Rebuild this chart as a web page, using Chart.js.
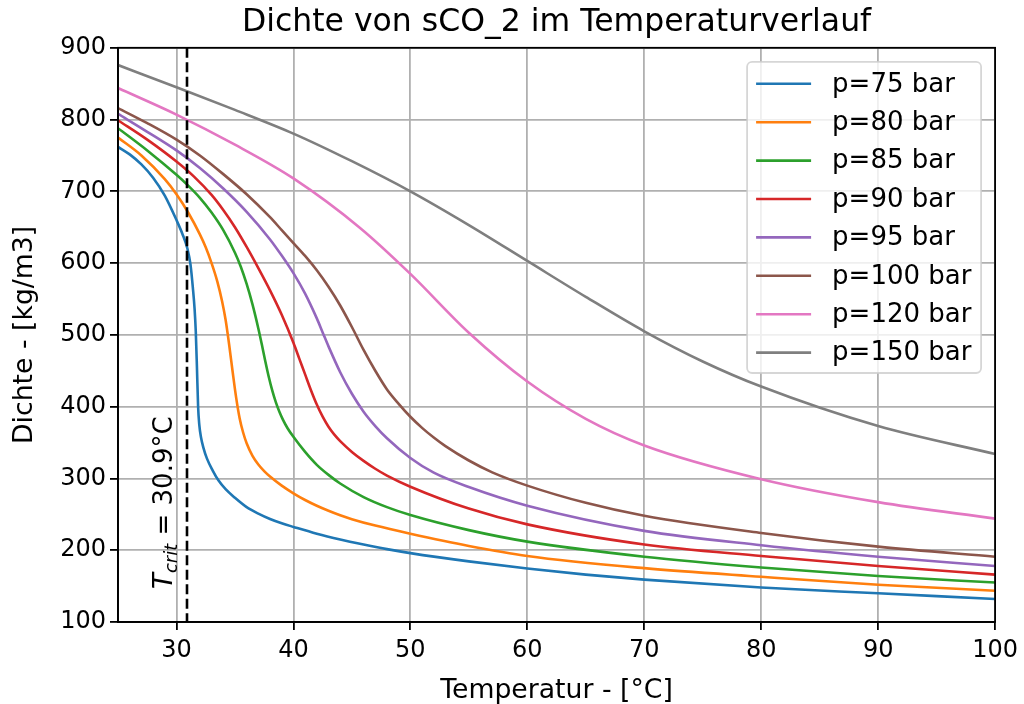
<!DOCTYPE html>
<html>
<head>
<meta charset="utf-8">
<script src="https://cdn.jsdelivr.net/npm/chart.js@4"></script>
<style>
  html, body { margin: 0; padding: 0; background: #fff; }
  canvas { display: block; }
</style>
</head>
<body>
<canvas id="chart" width="1024" height="704"></canvas>
<script>
// sCO2 density over temperature, one isobar per pressure
const pressures = [75, 80, 85, 90, 95, 100, 120, 150];
const lineColors = ["#1f77b4", "#ff7f0e", "#2ca02c", "#d62728", "#9467bd", "#8c564b", "#e377c2", "#7f7f7f"];

const temp75 = [25, 26, 27, 28, 29, 30, 30.5, 30.94, 31.2, 31.4, 31.55, 31.65, 31.75, 31.85, 31.95, 32.1, 32.3, 32.6, 33.1, 33.6, 34.2, 35, 36, 37, 38, 39, 40, 42, 44, 46, 48, 50, 55, 60, 65, 70, 80, 90, 100];
const rho75  = [762, 751.5, 737.5, 719, 694, 660, 641, 620, 598, 566, 536, 505, 455, 400, 375, 357, 343, 328, 311, 297, 285, 273, 260, 251, 243.5, 237.5, 232.5, 223, 215, 208, 201.5, 196, 184.5, 174.5, 166, 159, 148, 140, 132];

const temp80 = [25, 27, 29, 30, 31, 32, 32.5, 33, 33.5, 33.9, 34.2, 34.5, 34.8, 35.1, 35.4, 35.7, 36, 36.5, 37, 37.5, 38, 39, 40, 41, 42, 43, 44, 45, 47, 50, 55, 60, 70, 80, 90, 100];
const rho80  = [775, 750, 717, 696, 670.5, 640, 622, 600, 574, 547, 521, 487, 449, 413, 384, 364, 349, 331.5, 319.5, 310.3, 302.7, 290, 279.3, 270, 262, 255, 248.7, 243.3, 234.3, 223, 206, 192, 175, 163, 152, 143.5];

const temp85 = [25, 27.5, 30, 31, 32, 33, 34, 35, 35.5, 36, 36.5, 37, 37.3, 37.6, 37.9, 38.2, 38.5, 38.8, 39.1, 39.5, 40, 41, 42, 43, 44, 46, 48, 50, 55, 60, 70, 80, 90, 100];
const rho85  = [788, 757, 723, 708, 691, 670.5, 646, 614.5, 595, 571, 542.5, 509, 486.5, 463, 441, 422, 406, 393, 382, 370, 358, 337, 319, 305, 293, 274, 260, 249, 228, 212, 191, 176, 164, 155];

const temp90 = [25, 27.5, 30, 31.5, 33, 34, 35, 36, 37, 38, 39, 40, 40.5, 41, 41.5, 42, 42.5, 43, 43.5, 44, 45, 46, 47, 48, 50, 55, 60, 70, 80, 90, 100];
const rho90  = [799, 772, 741.5, 720.5, 695, 674, 650, 622.5, 593, 562, 528, 489, 467, 445, 423, 403, 386, 372, 361, 352, 337, 324.5, 313.5, 304, 288.5, 258, 236, 208, 192, 178, 166];

const temp95 = [25, 27.5, 30, 32, 34, 36, 38, 39, 40, 41, 42, 42.5, 43, 44, 45, 46, 47, 48, 50, 52, 55, 60, 70, 80, 90, 100];
const rho95  = [808, 783, 757, 732.5, 704, 671.5, 633, 610.5, 586, 557.5, 523, 503.5, 484, 448, 418, 393, 373, 356, 328.5, 308, 288, 262, 227, 207, 191, 178];

const temp100 = [25, 27.5, 30, 32, 34, 36, 38, 39, 40, 41, 42, 43, 44, 45, 46, 47, 48, 49, 50, 51, 52, 53, 55, 57, 60, 65, 70, 80, 90, 100];
const rho100  = [816, 795, 772, 750, 724, 696, 664, 646, 628, 610, 590, 567, 541, 511, 479, 450, 424, 404, 386, 370.5, 357, 345, 325, 308.5, 290, 266, 248, 224, 205, 191];

const temp120 = [25, 30, 35, 40, 45.7, 50, 55, 60, 65, 70, 80, 90, 100];
const rho120  = [844, 807, 765, 718, 649, 585, 503, 435, 383, 346, 299, 267, 244];

const temp150 = [25, 30, 35, 40, 45, 50, 55, 60, 65, 70, 75, 80, 90, 100];
const rho150  = [876, 845, 813.5, 780.5, 742, 700, 653, 603, 553, 505, 463, 428, 373, 334];

const xTicks = [30, 40, 50, 60, 70, 80, 90, 100];
const yTicks = [100, 200, 300, 400, 500, 600, 700, 800, 900];
const tCrit = 30.9;

const temps = [temp75, temp80, temp85, temp90, temp95, temp100, temp120, temp150];
const rhos = [rho75, rho80, rho85, rho90, rho95, rho100, rho120, rho150];

const FONT = "DejaVu Sans";

const datasets = pressures.map((p, i) => ({
  label: "p=" + p + " bar",
  data: temps[i].map((t, k) => ({ x: t, y: rhos[i][k] })),
  borderColor: lineColors[i],
  backgroundColor: lineColors[i],
  borderWidth: 2.6,
  pointRadius: 0,
  cubicInterpolationMode: "monotone",
  fill: false
}));

// dashed critical-temperature marker with rotated label, plus the axes frame
const critLine = {
  id: "critLine",
  afterDatasetsDraw(chart) {
    const { ctx, chartArea: a, scales } = chart;
    const x = scales.x.getPixelForValue(tCrit);
    ctx.save();
    ctx.strokeStyle = "#000";
    ctx.lineWidth = 2.6;
    ctx.setLineDash([10, 4.5]);
    ctx.beginPath();
    ctx.moveTo(x, a.top);
    ctx.lineTo(x, a.bottom);
    ctx.stroke();
    ctx.setLineDash([]);

    // label: T_crit = 30.9°C, reading bottom to top
    ctx.translate(x - 15, scales.y.getPixelForValue(146));
    ctx.rotate(-Math.PI / 2);
    ctx.fillStyle = "#000";
    ctx.textBaseline = "alphabetic";
    ctx.textAlign = "left";
    let pos = 0;
    ctx.font = "italic 26px " + FONT;
    ctx.fillText("T", pos, 0);
    pos += ctx.measureText("T").width;
    ctx.font = "italic 18px " + FONT;
    ctx.fillText("crit", pos, 5);
    pos += ctx.measureText("crit").width;
    ctx.font = "26px " + FONT;
    ctx.fillText(" = " + tCrit + "°C", pos, 0);
    ctx.restore();

    ctx.save();
    ctx.strokeStyle = "#000";
    ctx.lineWidth = 1.8;
    ctx.strokeRect(a.left, a.top, a.right - a.left, a.bottom - a.top);
    ctx.restore();
  }
};

// boxed legend in the upper right corner of the plot
const boxLegend = {
  id: "boxLegend",
  afterDraw(chart) {
    const { ctx, chartArea: a } = chart;
    const w = 234, rowH = 38.4;
    const sets = chart.data.datasets;
    const h = sets.length * rowH + 4;
    const x0 = a.right - 14 - w, y0 = a.top + 14;
    ctx.save();
    ctx.beginPath();
    ctx.roundRect(x0, y0, w, h, 5);
    ctx.fillStyle = "rgba(255,255,255,0.8)";
    ctx.fill();
    ctx.strokeStyle = "rgba(204,204,204,0.8)";
    ctx.lineWidth = 1.8;
    ctx.stroke();
    ctx.font = "26px " + FONT;
    ctx.textBaseline = "middle";
    ctx.textAlign = "left";
    sets.forEach((ds, i) => {
      const cy = y0 + 22 + i * rowH;
      ctx.strokeStyle = ds.borderColor;
      ctx.lineWidth = 2.6;
      ctx.beginPath();
      ctx.moveTo(x0 + 9, cy);
      ctx.lineTo(x0 + 64, cy);
      ctx.stroke();
      ctx.fillStyle = "#000";
      ctx.fillText(ds.label, x0 + 85, cy + 1);
    });
    ctx.restore();
  }
};

new Chart(document.getElementById("chart"), {
  type: "line",
  data: { datasets },
  plugins: [critLine, boxLegend],
  options: {
    responsive: false,
    devicePixelRatio: 1,
    animation: false,
    layout: { padding: { left: 0, right: 27, top: 0, bottom: 0 } },
    plugins: {
      legend: { display: false },
      tooltip: { enabled: false },
      title: {
        display: true,
        text: "Dichte von sCO_2 im Temperaturverlauf",
        color: "#000",
        fullSize: false,
        font: { family: FONT, size: 31.5, weight: "normal" },
        padding: { top: 4, bottom: 6 }
      }
    },
    scales: {
      x: {
        type: "linear",
        min: 25,
        max: 100,
        afterBuildTicks: s => { s.ticks = xTicks.map(v => ({ value: v })); },
        afterFit: s => { s.height = 82; },
        ticks: { color: "#000", font: { family: FONT, size: 24 }, padding: 6, maxRotation: 0 },
        grid: { color: "#b0b0b0", lineWidth: 1.8, tickColor: "#000", tickWidth: 1.8, tickLength: 8 },
        border: { color: "#000", width: 1.8 },
        title: { display: true, text: "Temperatur - [°C]", color: "#000", font: { family: FONT, size: 26.7, lineHeight: 1.0 }, padding: { top: 0, bottom: 0 } }
      },
      y: {
        type: "linear",
        min: 100,
        max: 900,
        afterBuildTicks: s => { s.ticks = yTicks.map(v => ({ value: v })); },
        afterFit: s => { s.width = 118; },
        ticks: { color: "#000", font: { family: FONT, size: 24 }, padding: 4 },
        grid: { color: "#b0b0b0", lineWidth: 1.8, tickColor: "#000", tickWidth: 1.8, tickLength: 8 },
        border: { color: "#000", width: 1.8 },
        title: { display: true, text: "Dichte - [kg/m3]", color: "#000", font: { family: FONT, size: 26.7 }, padding: { top: 9, bottom: 0 } }
      }
    }
  }
});
</script>
</body>
</html>
